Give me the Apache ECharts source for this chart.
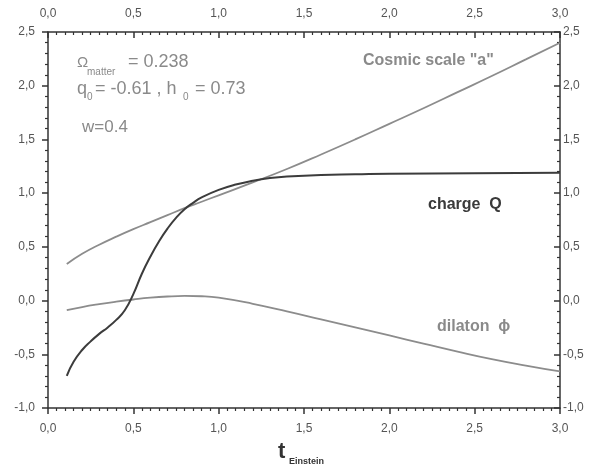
<!DOCTYPE html>
<html>
<head>
<meta charset="utf-8">
<script src="https://cdn.jsdelivr.net/npm/echarts@6/dist/echarts.min.js"></script>
<style>html,body{margin:0;padding:0;background:#fff;}#c{width:599px;height:467px;}</style>
</head>
<body>
<div id="c"></div>
<script>
// Data
var tA   = [0.11, 0.2, 0.3, 0.4, 0.5, 0.6, 0.7, 0.8, 0.9, 1.0, 1.2, 1.4, 1.6, 1.8, 2.0, 2.2, 2.4, 2.6, 2.8, 3.0];
var aVal = [0.34, 0.435, 0.52, 0.595, 0.665, 0.73, 0.795, 0.86, 0.92, 0.98, 1.10, 1.225, 1.36, 1.50, 1.645, 1.79, 1.94, 2.09, 2.245, 2.40];

var tQ   = [0.11, 0.15, 0.2, 0.25, 0.3, 0.35, 0.4, 0.45, 0.5, 0.55, 0.6, 0.65, 0.7, 0.75, 0.8, 0.85, 0.9, 1.0, 1.1, 1.2, 1.3, 1.4, 1.6, 1.8, 2.0, 2.5, 3.0];
var qVal = [-0.70, -0.57, -0.46, -0.38, -0.31, -0.25, -0.18, -0.09, 0.06, 0.25, 0.41, 0.55, 0.67, 0.77, 0.85, 0.91, 0.96, 1.03, 1.08, 1.115, 1.14, 1.155, 1.17, 1.175, 1.18, 1.185, 1.19];

var tPhi   = [0.11, 0.2, 0.3, 0.4, 0.5, 0.6, 0.7, 0.8, 0.9, 1.0, 1.2, 1.4, 1.6, 1.8, 2.0, 2.2, 2.4, 2.6, 2.8, 3.0];
var phiVal = [-0.09, -0.06, -0.033, -0.01, 0.01, 0.027, 0.038, 0.043, 0.04, 0.027, -0.03, -0.10, -0.175, -0.25, -0.325, -0.40, -0.475, -0.545, -0.605, -0.66];

var xTicks = {min: 0, max: 3, interval: 0.5};
var yTicks = {min: -1, max: 2.5, interval: 0.5};

function pairs(xs, ys) { return xs.map(function (x, i) { return [x, ys[i]]; }); }
function fmt(v) { return v.toFixed(1).replace('.', ','); }

var FONT = '"Liberation Sans", Arial, sans-serif';
var axisColor = '#333';
var labelColor = '#555';
var textGray = '#8a8a8a';

function xAxisDef(pos, inside, margin) {
  return {
    type: 'value', position: pos, min: xTicks.min, max: xTicks.max, interval: xTicks.interval,
    axisLine: {show: true, onZero: false, lineStyle: {color: axisColor, width: 1.5}},
    axisTick: {show: true, inside: inside, length: 6, lineStyle: {color: axisColor, width: 1.5}},
    minorTick: {show: true, splitNumber: 10, length: 3, lineStyle: {color: axisColor, width: 1.2}},
    splitLine: {show: false},
    axisLabel: {formatter: fmt, color: labelColor, fontSize: 12, fontFamily: FONT, margin: margin}
  };
}
function yAxisDef(pos, inside, margin) {
  return {
    type: 'value', position: pos, min: yTicks.min, max: yTicks.max, interval: yTicks.interval,
    axisLine: {show: true, onZero: false, lineStyle: {color: axisColor, width: 1.5}},
    axisTick: {show: true, inside: inside, length: 6, lineStyle: {color: axisColor, width: 1.5}},
    minorTick: {show: true, splitNumber: 5, length: 3, lineStyle: {color: axisColor, width: 1.2}},
    splitLine: {show: false},
    axisLabel: {formatter: fmt, color: labelColor, fontSize: 12, fontFamily: FONT, margin: margin}
  };
}

var chart = echarts.init(document.getElementById('c'), null, {renderer: 'canvas'});

function txt(x, y, s, size, color, weight, align) {
  return {
    type: 'text', x: x, y: y, silent: true,
    style: {text: s, fill: color, font: (weight || 'normal') + ' ' + size + 'px ' + FONT,
            textAlign: align || 'left', textVerticalAlign: 'middle', verticalAlign: 'middle'}
  };
}

chart.setOption({
  animation: false,
  backgroundColor: '#fff',
  grid: {left: 48, right: 39, top: 32, bottom: 59},
  xAxis: [xAxisDef('bottom', false, 15), xAxisDef('top', true, 12)],
  yAxis: [yAxisDef('left', false, 13), yAxisDef('right', true, 3)],
  series: [
    {name: 'Cosmic scale a', type: 'line', xAxisIndex: 0, yAxisIndex: 0, smooth: true, symbol: 'none',
     lineStyle: {color: '#8c8c8c', width: 1.8}, data: pairs(tA, aVal)},
    {name: 'dilaton', type: 'line', xAxisIndex: 0, yAxisIndex: 0, smooth: true, symbol: 'none',
     lineStyle: {color: '#8c8c8c', width: 1.8}, data: pairs(tPhi, phiVal)},
    {name: 'charge Q', type: 'line', xAxisIndex: 0, yAxisIndex: 0, smooth: true, symbol: 'none',
     lineStyle: {color: '#3c3c3c', width: 2}, data: pairs(tQ, qVal)}
  ],
  graphic: [
    txt(77, 63, 'Ω', 15, textGray),
    txt(87, 72, 'matter', 10, textGray),
    txt(128, 62, '= 0.238', 18, textGray),
    txt(77, 89, 'q', 18, textGray),
    txt(87, 97, '0', 10, textGray),
    txt(95, 89, '= -0.61 , h', 18, textGray),
    txt(183, 97, '0', 10, textGray),
    txt(195, 89, '= 0.73', 18, textGray),
    txt(82, 127, 'w=0.4', 17, textGray),
    txt(363, 61, 'Cosmic scale "a"', 16, textGray, 'bold'),
    txt(428, 205, 'charge  Q', 16, '#3a3a3a', 'bold'),
    txt(437, 327, 'dilaton  ϕ', 16, textGray, 'bold'),
    txt(278, 452, 't', 22, '#333', 'bold'),
    txt(289, 462, 'Einstein', 9, '#333', 'bold')
  ]
});
</script>
</body>
</html>
